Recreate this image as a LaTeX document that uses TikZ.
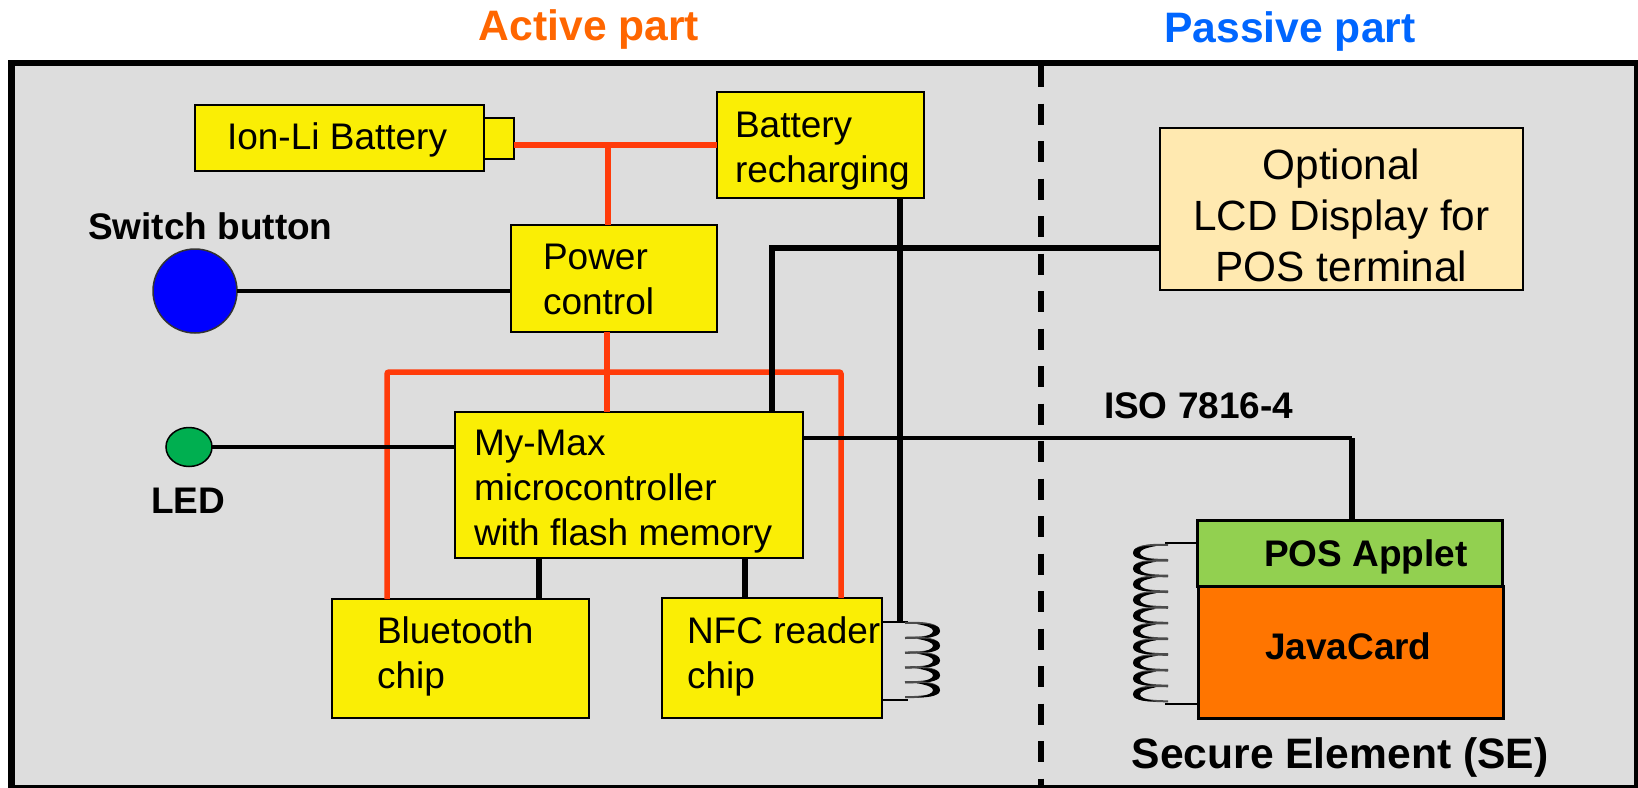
\documentclass[tikz,border=0pt]{standalone}
\usepackage{fontspec}
\usetikzlibrary{shapes.geometric}
\setmainfont{Liberation Sans}
\tikzset{
  x=1pt,y=-1pt,
  box/.style={draw=black,line width=2.6pt,fill=chipyellow,outer sep=0pt,inner xsep=0pt,inner ysep=0pt,align=left,
    font=\fontsize{37pt}{45pt}\selectfont,execute at begin node={\spaceskip=0.278em\relax\xspaceskip=0.278em\relax}},
  pad/.style={execute at begin node={\spaceskip=0.278em\relax\xspaceskip=0.278em\relax\leftskip=#1pt\relax}},
  drop/.style={execute at end node={\par\vspace*{\dimexpr-2\dimexpr#1pt\relax\relax}}},
  lab/.style={font=\fontsize{37pt}{45pt}\selectfont\bfseries,inner sep=0pt,outer sep=0pt},
  biglab/.style={font=\fontsize{42.6pt}{50pt}\selectfont\bfseries,inner sep=0pt,outer sep=0pt},
  power/.style={draw=wirered,line width=5.5pt},
  sig/.style={draw=black,line width=5.5pt},
  sigthin/.style={draw=black,line width=3.6pt},
  coilwire/.style={draw=black,line width=2.2pt},
  turn/.pic={
    \draw[draw=black!70,line width=2pt] (0,0) .. controls (22,-1) and (34,2) .. (34,8) .. controls (34,12) and (22,15) .. (0,15);
    \fill[black] (12,1) .. controls (26,0) and (36,3) .. (35,8) .. controls (36,12) and (26,16) .. (12,15)
      .. controls (23,13) and (28,11) .. (28,8) .. controls (28,5) and (23,3) .. (12,1) -- cycle;
  }
}
\definecolor{panelgray}{HTML}{DDDDDD}
\definecolor{chipyellow}{HTML}{FAEE05}
\definecolor{wirered}{HTML}{FF3B0A}
\definecolor{titleorange}{HTML}{FF6600}
\definecolor{titleblue}{HTML}{0066FF}
\definecolor{lcdcream}{HTML}{FFE9B0}
\definecolor{posgreen}{HTML}{92D050}
\definecolor{jcorange}{HTML}{FF7500}
\definecolor{ledgreen}{HTML}{00AF50}
\begin{document}
\begin{tikzpicture}
\useasboundingbox (0,0) rectangle (1638,787);
\begin{scope}
\clip (0,0) rectangle (1638,787);
\node[draw=black,line width=6.5pt,fill=panelgray,minimum width=1625.5pt,minimum height=725.5pt,inner sep=0pt,outer sep=0pt,anchor=north west] (frame) at (11.5,63) {};
\end{scope}
\coordinate (dtop) at (1041,66);
\coordinate (dbot) at (1041,786);
\draw[black,line width=5.5pt,dash pattern=on 21pt off 16.5pt] (dtop) -- (dbot);

\node[biglab,text=titleorange] (active) at (589,29) {Active part};
\node[biglab,text=titleblue] (passive) at (1290,31) {Passive part};

\node[box,minimum width=289pt,minimum height=66pt,text width=289pt,pad=32,drop=2] (bat) at (339.5,138) {Ion-Li Battery};
\node[box,minimum width=30pt,minimum height=41pt] (term) at (499,138.5) {};
\node[box,minimum width=207pt,minimum height=106pt,text width=207pt,pad=18,drop=6] (rech) at (820.5,145) {Battery\\recharging};
\node[box,minimum width=206pt,minimum height=107pt,text width=206pt,pad=32,drop=1] (pwr) at (614,278.5) {Power\\control};
\node[box,minimum width=348pt,minimum height=146pt,text width=348pt,pad=19,drop=7] (mcu) at (629,485) {My-Max\\microcontroller\\with flash memory};
\node[box,minimum width=257pt,minimum height=119pt,text width=257pt,pad=45,drop=-2] (bt) at (460.5,658.5) {Bluetooth\\chip};
\node[box,minimum width=220pt,minimum height=120pt,text width=220pt,pad=25,drop=-2] (nfc) at (772,658) {\mbox{NFC reader}\\chip};
\node[box,fill=lcdcream,minimum width=363pt,minimum height=162pt,text width=363pt,font=\fontsize{42.3pt}{51pt}\selectfont,align=center,drop=6] (lcd) at (1341.5,209) {Optional\\LCD Display for\\POS terminal};
\node[box,fill=posgreen,line width=3pt,font=\fontsize{37pt}{45pt}\selectfont\bfseries,minimum width=305pt,minimum height=66pt,text width=305pt,pad=67,drop=5] (pos) at (1349.5,553) {POS Applet};
\node[box,fill=jcorange,line width=3pt,font=\fontsize{37pt}{45pt}\selectfont\bfseries,minimum width=305pt,minimum height=132pt,text width=305pt,pad=67,drop=-6] (jc) at (1350.5,652.5) {JavaCard};

\node[circle,draw=black!80,line width=1.5pt,fill=blue,minimum size=84pt,inner sep=0pt,outer sep=0pt] (sw) at (195,291) {};
\node[ellipse,draw=black,line width=1.5pt,fill=ledgreen,minimum width=46pt,minimum height=39pt,inner sep=0pt,outer sep=0pt] (led) at (189,447) {};
\node[lab,anchor=west] (swl) at (88,226) {Switch button};
\node[lab] (ledl) at (188,501) {LED};
\node[lab,anchor=west] (iso) at (1104,406) {ISO 7816-4};
\node[biglab] (sel) at (1340,757) {Secure Element (SE)};

\coordinate (j1) at (608,145);
\coordinate (j2) at (607,372);
\coordinate (rl) at (387,372);
\coordinate (rr) at (841,372);
\draw[power] (j1 -| term.east) -- (j1 -| rech.west);
\draw[power] (j1) -- (j1 |- pwr.north);
\draw[power] (j2 |- pwr.south) -- (j2 |- mcu.north);
\draw[power,rounded corners=2pt] (rl |- bt.north) -- (rl) -- (rr) -- (rr |- nfc.north);

\draw[sigthin] (sw.east) -- (sw.east -| pwr.west);
\draw[sigthin] (led.east) -- (led.east -| mcu.west);
\coordinate (lcdc) at (772,248);
\draw[sig] (lcdc -| lcd.west) -- (lcdc) -- (lcdc |- mcu.north);
\coordinate (isoc) at (1352,438);
\draw[sigthin,line width=4pt] (isoc -| mcu.east) -- (isoc);
\draw[sig] (isoc) -- (isoc |- pos.north);
\coordinate (b1) at (539,558);
\coordinate (b2) at (745,558);
\draw[sig] (b1 |- mcu.south) -- (b1 |- bt.north);
\draw[sig] (b2 |- mcu.south) -- (b2 |- nfc.north);

\coordinate (ct) at (908,622);
\coordinate (cb) at (908,700);
\coordinate (rc) at (900,622);
\draw[sig] (rc |- rech.south) -- (rc);
\draw[coilwire] (ct -| nfc.east) -- (ct);
\draw[coilwire] (cb -| nfc.east) -- (cb);
\foreach \i in {0,...,4} \pic at (905,{623+14.8*\i}) {turn};

\coordinate (st) at (1165,543);
\coordinate (sb) at (1165,704);
\draw[coilwire] (st -| pos.west) -- (st);
\draw[coilwire] (sb -| jc.west) -- (sb);
\foreach \i in {0,...,9} \pic[xscale=-1] at (1168,{545+15.7*\i}) {turn};
\end{tikzpicture}
\end{document}
